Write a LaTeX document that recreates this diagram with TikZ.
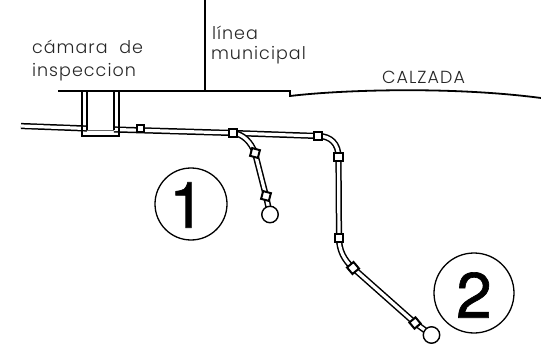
\documentclass[tikz,border=0pt]{standalone}
\usepackage{fontspec}
\usetikzlibrary{backgrounds}
\setmainfont{Liberation Sans}
\newfontfamily\thinfont[LetterSpace=6]{Poppins Light}
\newfontfamily\numfont[FakeBold=1]{TeX Gyre Heros}
\tikzset{
  pipe/.style={draw=black,line width=1.5pt,double=white,double distance=3.2pt},
  fitbox/.style={draw=black,fill=white,line width=2pt,minimum size=7.5pt,inner sep=0pt,outer sep=0pt},
  endcap/.style={draw=black,fill=white,circle,line width=1.4pt,minimum size=16.5pt,inner sep=0pt,outer sep=0pt},
  callout/.style={draw=black,circle,line width=1.3pt,inner sep=0pt,outer sep=0pt},
  wall/.style={draw=black,line width=1.8pt},
  thinwall/.style={draw=black,line width=1.3pt},
  digit/.style={font=\numfont\fontsize{64}{64}\selectfont,inner sep=0pt,outer sep=0pt},
  lbl/.style={inner sep=0pt,outer sep=0pt,anchor=base west,text=black!85,font=\thinfont\fontsize{17.5}{17.5}\selectfont}
}
\begin{document}
\begin{tikzpicture}[x=1pt,y=-1pt]
\useasboundingbox (0,0) rectangle (541,350);
% ground line
\coordinate (g0) at (58,91);
\coordinate (g1) at (290,91);
\coordinate (g2) at (290,96);
\coordinate (g3) at (541,98);
\coordinate (m0) at (205,0);
\coordinate (m1) at (205,91);
\draw[wall] (g0) -- (g1) -- (g2) .. controls (340,90) and (450,86) .. (g3);
\draw[wall,line width=1.4pt] (m0) -- (m1);
% fittings
\coordinate (pa) at (21,126);
\coordinate (pb) at (87,128.5);
\coordinate (pc) at (114,129.5);
\node[fitbox,minimum size=7pt] (f1) at (140,129) {};
\node[fitbox,minimum size=8.5pt] (f2) at (233,133) {};
\node[fitbox,minimum size=8.5pt] (f3) at (318,136) {};
\node[fitbox,minimum size=8.5pt] (f4) at (338.5,157) {};
\node[fitbox,minimum size=8pt] (f5) at (339,238) {};
\node[fitbox,minimum size=8.5pt,rotate=40] (f6) at (353,268) {};
\node[fitbox,minimum size=8pt,rotate=40] (f7) at (415,323) {};
\node[endcap] (e2) at (431.5,335) {};
\node[fitbox,minimum size=8pt,rotate=-15] (f8) at (255,153) {};
\node[fitbox,minimum size=8pt,rotate=-15] (f9) at (266,196) {};
\node[endcap] (e1) at (270,214.5) {};
% pipes
\begin{scope}[on background layer]
\draw[pipe] (pa) -- (pb);
\draw[pipe] (pc) -- (f2.center) -- (f3.center);
\draw[pipe] (f3.center) .. controls (331,136) and (338.5,144) .. (f4.center);
\draw[pipe] (f4.center) -- (f5.center);
\draw[pipe] (f5.center) .. controls (339,250) and (344,260) .. (f6.center);
\draw[pipe] (f6.center) -- (f7.center);
\draw[pipe] (f7.center) -- (e2.center);
\draw[pipe] (f2.center) .. controls (243,134) and (251,142) .. (f8.center);
\draw[pipe] (f8.center) -- (f9.center);
\draw[pipe] (f9.center) -- (e1.center);
\end{scope}
% chamber
\coordinate (c1) at (82,91);
\coordinate (c2) at (82,136);
\coordinate (c3) at (119,136);
\coordinate (c4) at (119,91);
\coordinate (c5) at (87,91);
\coordinate (c6) at (87,130);
\coordinate (c7) at (114,130);
\coordinate (c8) at (114,91);
\draw[thinwall] (c1) -- (c2) -- (c3) -- (c4);
\draw[thinwall] (c5) -- (c6);
\draw[thinwall] (c7) -- (c8);
\draw[draw=black!60,line width=.6pt] (c6) -- (c7);
% callouts
\node[callout,minimum size=72pt] (n1) at (191,204) {};
\node[digit] (t1) at (187,205) {1};
\node[callout,minimum size=80pt] (n2) at (474,293) {};
\node[digit] (t2) at (474,295) {2};
% labels
\node[lbl] (l1) at (32,53.5) {cámara\ \ de};
\node[lbl] (l2) at (32,77) {inspeccion};
\node[lbl] (l3) at (212,40) {línea};
\node[lbl] (l4) at (211,59.5) {municipal};
\node[lbl] (l5) at (382,84) {CALZADA};
\end{tikzpicture}
\end{document}
